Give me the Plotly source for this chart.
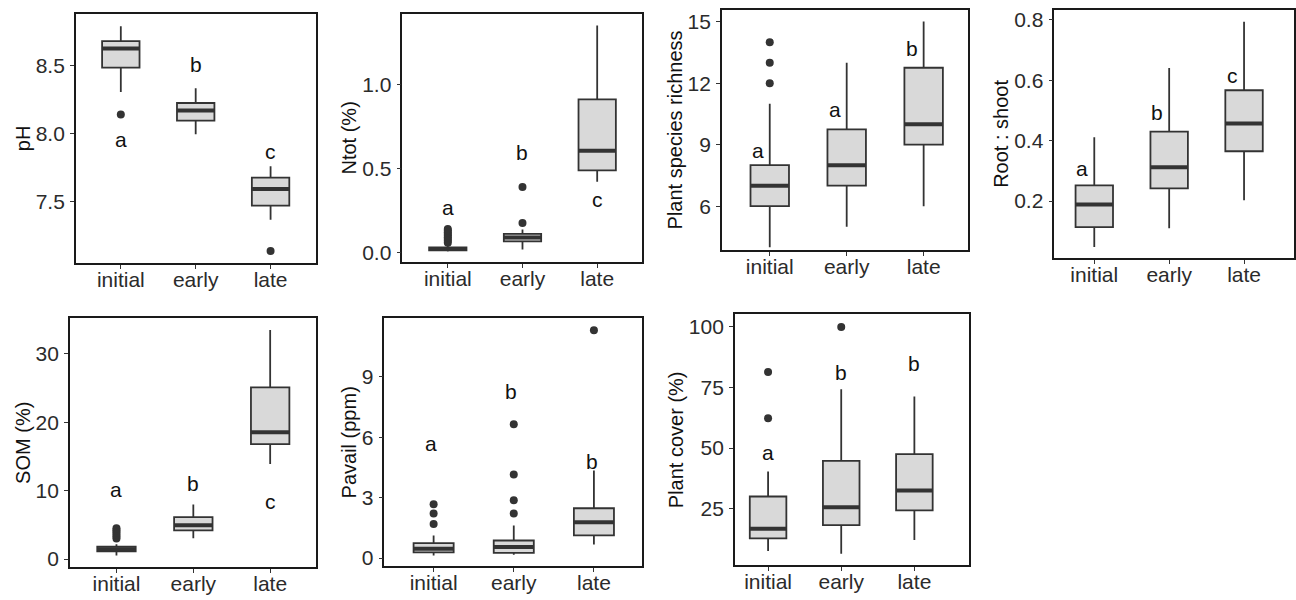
import plotly.graph_objects as go

W, H = 1296, 600
categories = ["initial", "early", "late"]
positions = [1, 2, 3]

# ---- pH ----
ph_lower = [8.305, 7.995, 7.366]
ph_q1 = [8.485, 8.096, 7.470]
ph_median = [8.626, 8.170, 7.593]
ph_q3 = [8.680, 8.225, 7.677]
ph_upper = [8.790, 8.334, 7.760]
ph_outliers = [[8.14], [], [7.137]]
ph_letters = ["a", "b", "c"]
ph_letter_y = [7.96, 8.51, 7.87]
ph_ticks = [7.5, 8.0, 8.5]

# ---- Ntot (%) ----
ntot_lower = [0.005, 0.018, 0.420]
ntot_q1 = [0.012, 0.066, 0.488]
ntot_median = [0.020, 0.089, 0.605]
ntot_q3 = [0.030, 0.110, 0.911]
ntot_upper = [0.050, 0.136, 1.351]
ntot_outliers = [[0.058, 0.07, 0.08, 0.09, 0.10, 0.11, 0.12, 0.13, 0.14], [0.175, 0.39], []]
ntot_letters = ["a", "b", "c"]
ntot_letter_y = [0.27, 0.595, 0.314]
ntot_ticks = [0.0, 0.5, 1.0]

# ---- Plant species richness ----
rich_lower = [4, 5, 6]
rich_q1 = [6, 7, 9]
rich_median = [7, 8, 10]
rich_q3 = [8, 9.75, 12.75]
rich_upper = [11, 13, 15]
rich_outliers = [[12, 13, 14], [], []]
rich_letters = ["a", "a", "b"]
rich_letter_y = [8.7, 10.73, 13.68]
rich_ticks = [6, 9, 12, 15]

# ---- Root : shoot ----
rs_lower = [0.048, 0.110, 0.203]
rs_q1 = [0.114, 0.242, 0.365]
rs_median = [0.189, 0.312, 0.457]
rs_q3 = [0.252, 0.430, 0.567]
rs_upper = [0.411, 0.641, 0.794]
rs_outliers = [[], [], []]
rs_letters = ["a", "b", "c"]
rs_letter_y = [0.307, 0.493, 0.617]
rs_ticks = [0.2, 0.4, 0.6, 0.8]

# ---- SOM (%) ----
som_lower = [0.50, 3.04, 13.9]
som_q1 = [1.12, 4.20, 16.8]
som_median = [1.45, 4.93, 18.55]
som_q3 = [1.80, 6.14, 25.1]
som_upper = [2.17, 7.97, 33.5]
som_outliers = [[3.0, 3.3, 3.6, 3.9, 4.2, 4.5], [], []]
som_letters = ["a", "b", "c"]
som_letter_y = [10.1, 11.1, 8.46]
som_ticks = [0, 10, 20, 30]

# ---- Pavail (ppm) ----
pav_lower = [0.13, 0.16, 0.67]
pav_q1 = [0.28, 0.25, 1.12]
pav_median = [0.46, 0.54, 1.77]
pav_q3 = [0.74, 0.87, 2.47]
pav_upper = [1.12, 1.61, 4.34]
pav_outliers = [[1.69, 2.21, 2.67], [2.21, 2.87, 4.15, 6.64], [11.31]]
pav_letters = ["a", "b", "b"]
pav_letter_y = [5.67, 8.28, 4.8]
pav_ticks = [0, 3, 6, 9]

# ---- Plant cover (%) ----
cov_lower = [7.5, 6.4, 12.0]
cov_q1 = [12.7, 18.2, 24.3]
cov_median = [16.7, 25.6, 32.5]
cov_q3 = [30.0, 44.7, 47.5]
cov_upper = [40.3, 74.3, 71.3]
cov_outliers = [[62.3, 81.4], [100.0], []]
cov_letters = ["a", "b", "b"]
cov_letter_y = [48.2, 81.4, 85.0]
cov_ticks = [25, 50, 75, 100]

# panel layout: (left, right, top, bottom) in px, x range, y range, tick format, letter shift
panels = [
    dict(title="pH", lo=ph_lower, q1=ph_q1, med=ph_median, q3=ph_q3, hi=ph_upper,
         out=ph_outliers, let=ph_letters, ly=ph_letter_y, ticks=ph_ticks, fmt=".1f",
         box=(76, 316, 12, 263), xr=[0.4, 3.6], yr=[7.05, 8.88], dx=0.0),
    dict(title="Ntot (%)", lo=ntot_lower, q1=ntot_q1, med=ntot_median, q3=ntot_q3, hi=ntot_upper,
         out=ntot_outliers, let=ntot_letters, ly=ntot_letter_y, ticks=ntot_ticks, fmt=".1f",
         box=(403, 643, 12, 262), xr=[0.392, 3.60], yr=[-0.056, 1.42], dx=0.0),
    dict(title="Plant species richness", lo=rich_lower, q1=rich_q1, med=rich_median, q3=rich_q3, hi=rich_upper,
         out=rich_outliers, let=rich_letters, ly=rich_letter_y, ticks=rich_ticks, fmt="d",
         box=(723, 969, 8, 250), xr=[0.378, 3.57], yr=[3.87, 15.57], dx=-0.15),
    dict(title="Root : shoot", lo=rs_lower, q1=rs_q1, med=rs_median, q3=rs_q3, hi=rs_upper,
         out=rs_outliers, let=rs_letters, ly=rs_letter_y, ticks=rs_ticks, fmt=".1f",
         box=(1056, 1296, 8, 258), xr=[0.467, 3.667], yr=[0.012, 0.833], dx=-0.16),
    dict(title="SOM (%)", lo=som_lower, q1=som_q1, med=som_median, q3=som_q3, hi=som_upper,
         out=som_outliers, let=som_letters, ly=som_letter_y, ticks=som_ticks, fmt="d",
         box=(70, 316, 319, 570), xr=[0.394, 3.59], yr=[-1.2, 35.2], dx=0.0),
    dict(title="Pavail (ppm)", lo=pav_lower, q1=pav_q1, med=pav_median, q3=pav_q3, hi=pav_upper,
         out=pav_outliers, let=pav_letters, ly=pav_letter_y, ticks=pav_ticks, fmt="d",
         box=(385, 643, 319, 569), xr=[0.386, 3.60], yr=[-0.41, 11.9], dx=-0.03),
    dict(title="Plant cover (%)", lo=cov_lower, q1=cov_q1, med=cov_median, q3=cov_q3, hi=cov_upper,
         out=cov_outliers, let=cov_letters, ly=cov_letter_y, ticks=cov_ticks, fmt="d",
         box=(736, 970, 315, 568), xr=[0.546, 3.74], yr=[1.6, 105.2], dx=0.0),
]

FONT = "Liberation Sans, Arial, sans-serif"
LINE = "#333333"
FILL = "#d9d9d9"
BOXW = 0.5

fig = go.Figure()
annotations = []
layout = {}

for i, p in enumerate(panels):
    n = i + 1
    xa = "x" if n == 1 else f"x{n}"
    ya = "y" if n == 1 else f"y{n}"

    fig.add_trace(go.Box(
        x=positions, q1=p["q1"], median=p["med"], q3=p["q3"],
        lowerfence=p["lo"], upperfence=p["hi"],
        width=BOXW, whiskerwidth=0, fillcolor=FILL,
        line=dict(color=LINE, width=1.8), boxpoints=False,
        xaxis=xa, yaxis=ya, showlegend=False, hoverinfo="skip",
    ))

    # thicker median bars (ggplot style)
    mx, my = [], []
    for pos, m in zip(positions, p["med"]):
        mx += [pos - BOXW / 2, pos + BOXW / 2, None]
        my += [m, m, None]
    fig.add_trace(go.Scatter(x=mx, y=my, mode="lines", line=dict(color=LINE, width=4),
                             xaxis=xa, yaxis=ya, showlegend=False, hoverinfo="skip"))

    # outliers
    ox, oy = [], []
    for pos, outs in zip(positions, p["out"]):
        for v in outs:
            ox.append(pos)
            oy.append(v)
    if ox:
        fig.add_trace(go.Scatter(x=ox, y=oy, mode="markers",
                                 marker=dict(color=LINE, size=8),
                                 xaxis=xa, yaxis=ya, showlegend=False, hoverinfo="skip"))

    # letters
    for pos, t, yv in zip(positions, p["let"], p["ly"]):
        annotations.append(dict(x=pos + p["dx"], y=yv, xref=xa, yref=ya, text=t, showarrow=False,
                                font=dict(family=FONT, size=21, color="#111111")))

    l, r, t, b = p["box"]
    axis_common = dict(showline=True, mirror=True, linecolor="#1a1a1a", linewidth=1.6,
                       ticks="outside", ticklen=4, tickwidth=1.4, tickcolor=LINE,
                       showgrid=False, zeroline=False,
                       tickfont=dict(family=FONT, size=21, color="#2b2b2b"))
    layout[f"xaxis{'' if n == 1 else n}"] = dict(
        domain=[l / W, r / W], range=p["xr"], anchor=ya,
        tickmode="array", tickvals=positions, ticktext=categories,
        ticklabelstandoff=-7, **axis_common)
    layout[f"yaxis{'' if n == 1 else n}"] = dict(
        domain=[1 - b / H, 1 - t / H], range=p["yr"], anchor=xa,
        tickmode="array", tickvals=p["ticks"], tickformat=p["fmt"],
        ticklabelstandoff=1,
        title=dict(text=p["title"], standoff=0,
                   font=dict(family=FONT, size=20, color="#111111")),
        **axis_common)

fig.update_layout(
    width=W, height=H,
    margin=dict(l=0, r=0, t=0, b=0),
    paper_bgcolor="white", plot_bgcolor="white",
    annotations=annotations,
    showlegend=False,
    **layout,
)

fig.write_html(
    "out.html",
    config={"displayModeBar": False},
    post_script="document.body.style.margin='0';document.body.style.overflow='hidden';",
)
